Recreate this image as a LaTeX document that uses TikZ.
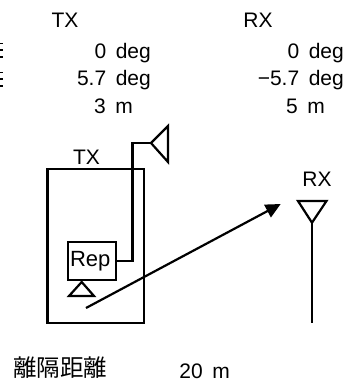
\documentclass[tikz,border=0pt]{standalone}
\usepackage{fontspec}
\setmainfont{Liberation Sans}
\newfontfamily\cjk{Noto Sans CJK JP}
\usetikzlibrary{arrows.meta}
\newcommand{\gapw}{\hspace{9.5pt}}
\tikzset{
  lbl/.style={inner sep=0pt,font=\fontsize{21}{21}\selectfont},
  val/.style={inner sep=0pt,anchor=base east,font=\fontsize{21}{21}\selectfont},
  ln/.style={line width=2.2pt,black},
  frag/.style={line width=1.6pt,black},
}
\begin{document}
\begin{tikzpicture}[x=1pt,y=-1pt]
\useasboundingbox (0,0) rectangle (349,383);
\foreach \yy in {43.5,50,57,72.5,79,86}{\draw[frag] (0,\yy) -- (3,\yy);}
\node[lbl] (txh) at (65,20.5) {TX};
\node[lbl] (rxh) at (258,20.5) {RX};
\node[val] (a1) at (151,58) {0\gapw deg};
\node[val] (a2) at (151,85.5) {5.7\gapw deg};
\node[val] (a3) at (133,113) {3\gapw m};
\node[val] (b1) at (344,58) {0\gapw deg};
\node[val] (b2) at (344,85.5) {−5.7\gapw deg};
\node[val] (b3) at (325,113) {5\gapw m};
\node[lbl] (txl) at (86.5,157.5) {TX};
\node[lbl] (rxl) at (317,179.5) {RX};
\draw[ln] (47.5,169) rectangle (144,322.7);
\node[draw,ln,inner sep=0pt,minimum width=48pt,minimum height=38pt,font=\fontsize{22}{22}\selectfont] (rep) at (91.7,261) {\hspace{-3pt}Rep};
\draw[ln] (69,296) -- (94,296) -- (81.7,282) -- cycle;
\coordinate (ant) at (151,143);
\draw[ln] (rep.east) -- (132.5,261) -- (132.5,143) -- (ant);
\draw[ln,line join=miter] (ant) -- (168,126) -- (168,162) -- cycle;
\draw[ln] (298,201) -- (326.5,201) -- (312,222.7) -- cycle;
\coordinate (rxb) at (312,323);
\draw[ln] (312,222.7) -- (rxb);
\coordinate (s) at (86,308);
\coordinate (e) at (280.7,204);
\draw[ln,-{Triangle[length=15pt,width=14pt]}] (s) -- (e);
\node[font=\cjk\fontsize{23.5}{24}\selectfont,inner sep=0pt] (sep) at (60,368) {離隔距離};
\node[val] (sepv) at (230,378) {20\gapw m};
\end{tikzpicture}
\end{document}
